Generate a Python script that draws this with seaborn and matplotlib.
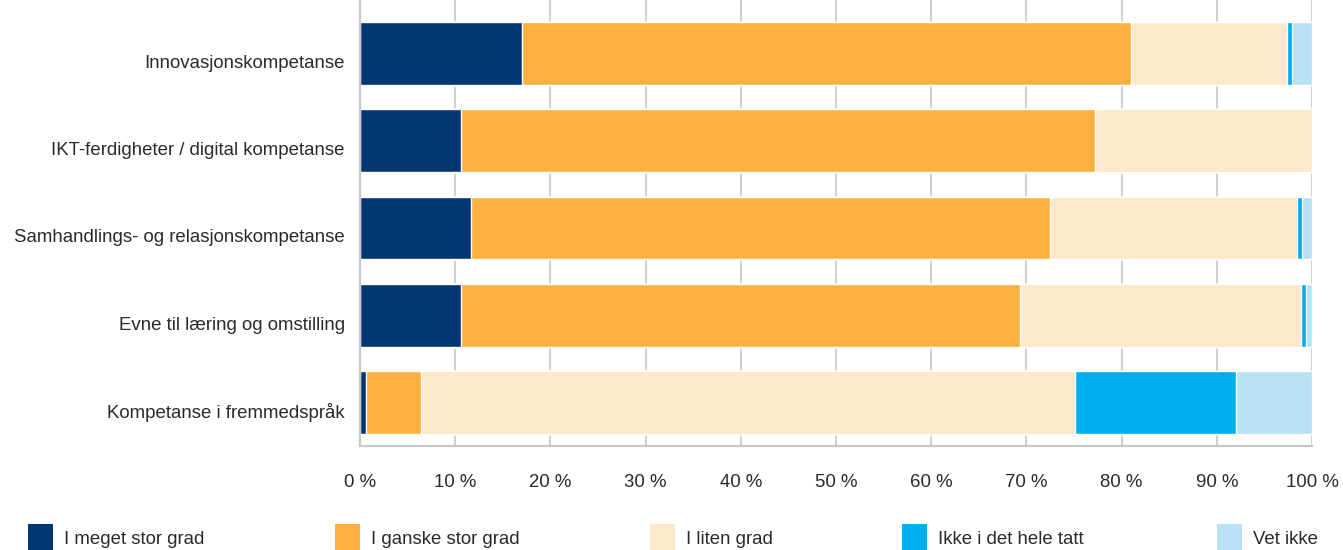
import matplotlib
matplotlib.use("Agg")
import matplotlib.pyplot as plt
import matplotlib.transforms as mtransforms
import seaborn as sns
import numpy as np
import pandas as pd
from matplotlib.patches import Rectangle

categories = [
    "Innovasjonskompetanse",
    "IKT-ferdigheter / digital kompetanse",
    "Samhandlings- og relasjonskompetanse",
    "Evne til læring og omstilling",
    "Kompetanse i fremmedspråk",
]
series_names = ["I meget stor grad", "I ganske stor grad", "I liten grad",
                "Ikke i det hele tatt", "Vet ikke"]
meget_stor = [17.0, 10.6, 11.7, 10.6, 0.6]
ganske_stor = [64.0, 66.6, 60.8, 58.7, 5.8]
liten = [16.4, 22.8, 25.9, 29.5, 68.7]
ikke = [0.5, 0.0, 0.5, 0.6, 16.9]
vet_ikke = [2.1, 0.0, 1.1, 0.6, 8.0]
xtick_values = list(range(0, 101, 10))
xtick_labels = [f"{v} %" for v in xtick_values]

colors = ["#043673", "#FBB040", "#FDE8CB", "#00AEEF", "#B9E1F6"]

sns.set_theme(style="white")
plt.rcParams["font.family"] = ["Liberation Sans", "DejaVu Sans"]

series = [meget_stor, ganske_stor, liten, ikke, vet_ikke]
cum = np.cumsum(np.array(series), axis=0)

fig = plt.figure(figsize=(13.43, 5.5), dpi=100)
ax = fig.add_axes([360 / 1343, 1 - 446 / 550, (1312 - 360) / 1343, 446 / 550])

for i in range(len(series) - 1, -1, -1):
    df = pd.DataFrame({"cat": categories, "val": cum[i]})
    sns.barplot(data=df, x="val", y="cat", orient="h", color=colors[i],
                width=0.72, saturation=1, ax=ax, zorder=2)

FS = 13.4
TC = "#2a2a2a"
ax.set_xlim(0, 100)
ax.set_ylim(4.4986, -0.613)
ax.set_xticks(xtick_values)
ax.set_xticklabels(xtick_labels)
ax.set_xlabel("")
ax.set_ylabel("")
ax.grid(axis="x", color="#cfcfcf", linewidth=1.4, zorder=0)
ax.grid(axis="y", visible=False)
ax.set_axisbelow(True)
for s in ["top", "right"]:
    ax.spines[s].set_visible(False)
for s in ["left", "bottom"]:
    ax.spines[s].set_color("#c8c8c8")
    ax.spines[s].set_linewidth(1.6)
ax.tick_params(axis="x", length=0, pad=20, labelsize=FS, labelcolor=TC)
ax.tick_params(axis="y", length=0, pad=11, labelsize=FS, labelcolor=TC)

offset = mtransforms.ScaledTranslation(0, -8 / 100, fig.dpi_scale_trans)
for lbl in ax.get_yticklabels():
    lbl.set_transform(lbl.get_transform() + offset)

# Legend
leg_x = [28, 335, 650, 902, 1217]
W, H = 1343, 550
for xpos, name, col in zip(leg_x, series_names, colors):
    fig.patches.append(Rectangle((xpos / W, 1 - 550 / H), 25 / W, 26 / H,
                                 transform=fig.transFigure, facecolor=col,
                                 edgecolor="none"))
    fig.text((xpos + 36) / W, 1 - 539 / H, name, fontsize=FS, color=TC,
             va="center", ha="left")

fig.savefig("out.png", dpi=100)
